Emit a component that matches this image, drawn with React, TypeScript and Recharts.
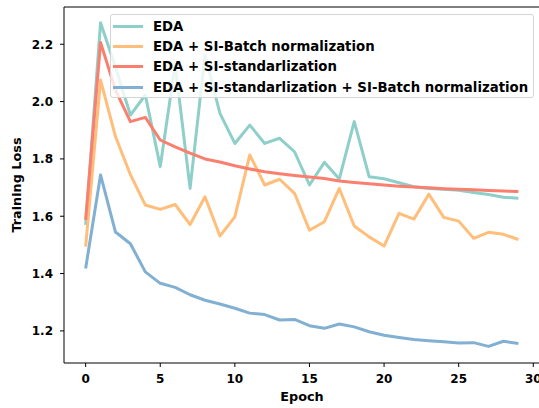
import React from 'react';
import { LineChart, Line, XAxis, YAxis, ReferenceLine } from 'recharts';

// training loss per epoch for the four variants
const epochs = [0, 1, 2, 3, 4, 5, 6, 7, 8, 9, 10, 11, 12, 13, 14, 15, 16, 17, 18, 19, 20, 21, 22, 23, 24, 25, 26, 27, 28, 29];
const edaLoss = [1.57, 2.275, 2.12, 1.953, 2.023, 1.773, 2.13, 1.697, 2.163, 1.959, 1.854, 1.918, 1.854, 1.872, 1.825, 1.709, 1.788, 1.73, 1.93, 1.738, 1.731, 1.717, 1.703, 1.697, 1.694, 1.691, 1.683, 1.676, 1.666, 1.663];
const batchNormLoss = [1.494, 2.075, 1.878, 1.745, 1.639, 1.624, 1.641, 1.571, 1.668, 1.531, 1.598, 1.814, 1.709, 1.729, 1.68, 1.551, 1.581, 1.697, 1.566, 1.528, 1.496, 1.61, 1.59, 1.677, 1.596, 1.583, 1.523, 1.544, 1.537, 1.519];
const standardLoss = [1.587, 2.206, 2.04, 1.93, 1.945, 1.866, 1.842, 1.82, 1.8, 1.789, 1.776, 1.765, 1.755, 1.748, 1.742, 1.737, 1.732, 1.723, 1.718, 1.713, 1.709, 1.705, 1.702, 1.699, 1.696, 1.694, 1.692, 1.69, 1.688, 1.686];
const bothLoss = [1.418, 1.744, 1.545, 1.504, 1.406, 1.366, 1.352, 1.326, 1.307, 1.294, 1.279, 1.262, 1.257, 1.238, 1.24, 1.218, 1.209, 1.224, 1.214, 1.197, 1.185, 1.177, 1.17, 1.166, 1.162, 1.158, 1.159, 1.146, 1.164, 1.156];

const xTicks = [0, 5, 10, 15, 20, 25, 30];
const yTicks = [1.2, 1.4, 1.6, 1.8, 2.0, 2.2];

const series = [
  { key: 'eda', name: 'EDA', color: '#8ECFC9' },
  { key: 'bn', name: 'EDA + SI-Batch normalization', color: '#FFBE7A' },
  { key: 'std', name: 'EDA + SI-standarlization', color: '#FA7F6F' },
  { key: 'both', name: 'EDA + SI-standarlization + SI-Batch normalization', color: '#82B0D2' },
];

const data = epochs.map((epoch, i) => ({
  epoch,
  eda: edaLoss[i],
  bn: batchNormLoss[i],
  std: standardLoss[i],
  both: bothLoss[i],
}));

const FONT = '"DejaVu Sans", sans-serif';
const tickStyle = { fill: '#000', fontSize: 12, fontWeight: 700, fontFamily: FONT };

const Legend = () => (
  <div
    style={{
      position: 'absolute',
      left: 110,
      top: 14,
      width: 424,
      height: 84,
      boxSizing: 'border-box',
      border: '1px solid #d4d4d4',
      borderRadius: 3,
      background: 'rgba(255,255,255,0.8)',
      paddingTop: 1,
      fontFamily: FONT,
      fontWeight: 700,
      fontSize: 13.3,
      color: '#000',
    }}
  >
    {series.map((s) => (
      <div key={s.key} style={{ height: 20.4, display: 'flex', alignItems: 'center', whiteSpace: 'nowrap' }}>
        <span style={{ display: 'inline-block', marginLeft: 2, width: 30, height: 3, background: s.color }} />
        <span style={{ marginLeft: 10 }}>{s.name}</span>
      </div>
    ))}
  </div>
);

export default function App() {
  return (
    <div style={{ position: 'absolute', left: 0, top: 0, width: 539, height: 408, overflow: 'hidden', background: '#fff' }}>
      <LineChart width={540} height={408} data={data} margin={{ top: 7, right: 0, bottom: 0, left: 0 }}>
        <XAxis
          dataKey="epoch"
          type="number"
          domain={[-1.45, 30.45]}
          allowDataOverflow
          ticks={xTicks}
          interval={0}
          height={45}
          tick={tickStyle}
          tickSize={4}
          tickMargin={7}
          stroke="#000"
          axisLine={{ stroke: '#000', strokeWidth: 1 }}
        />
        <YAxis
          type="number"
          domain={[1.088, 2.33]}
          allowDataOverflow
          ticks={yTicks}
          interval={0}
          width={64}
          tick={tickStyle}
          tickFormatter={(v: number) => v.toFixed(1)}
          tickSize={4}
          tickMargin={7}
          stroke="#000"
          axisLine={{ stroke: '#000', strokeWidth: 1 }}
        />
        <ReferenceLine y={2.33} stroke="#000" strokeWidth={1} ifOverflow="extendDomain" />
        {series.map((s) => (
          <Line
            key={s.key}
            type="linear"
            dataKey={s.key}
            stroke={s.color}
            strokeWidth={3}
            strokeLinejoin="round"
            dot={false}
            isAnimationActive={false}
          />
        ))}
        <text x={16} y={185} transform="rotate(-90,16,185)" textAnchor="middle" dominantBaseline="central" style={{ ...tickStyle, fontSize: 12.8 }}>
          Training Loss
        </text>
        <text x={302} y={401} textAnchor="middle" style={{ ...tickStyle, fontSize: 12.8 }}>
          Epoch
        </text>
      </LineChart>
      <Legend />
    </div>
  );
}
